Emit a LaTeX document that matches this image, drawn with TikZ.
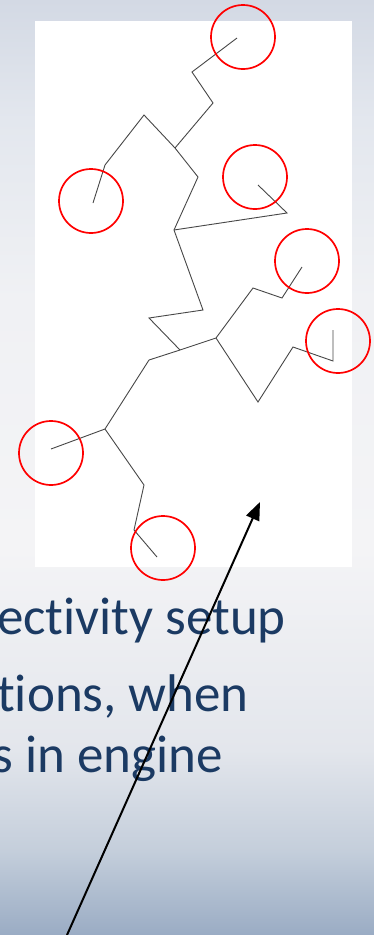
\documentclass[tikz,border=0pt]{standalone}
\usepackage{fontspec}
\setmainfont{Carlito}[Ligatures=NoCommon]
\usetikzlibrary{arrows.meta}

\definecolor{slidetext}{HTML}{1B3A63}
\definecolor{bgtop}{HTML}{D3D9E4}
\definecolor{bga}{HTML}{E3E7EE}
\definecolor{bgb}{HTML}{F0F1F4}
\definecolor{bgmid}{HTML}{F4F4F6}
\definecolor{bgd}{HTML}{E3E6EC}
\definecolor{bgc}{HTML}{C4CEDB}
\definecolor{bgbot}{HTML}{9AACC4}

\pgfdeclareverticalshading{slidebg}{100bp}{color(0bp)=(bgbot); color(25bp)=(bgbot);
  color(29.5bp)=(bgc); color(34.9bp)=(bgd); color(45.6bp)=(bgmid); color(59bp)=(bgb);
  color(68.6bp)=(bga); color(75bp)=(bgtop); color(100bp)=(bgtop)}

\tikzset{
  bond/.style={black!72, line width=0.9pt},
  ring/.style={circle, draw=red, line width=1.7pt, minimum size=64pt, inner sep=0pt},
  caption/.style={anchor=base east, text=slidetext, inner sep=0pt,
    font=\fontsize{53pt}{60pt}\selectfont},
  pointer/.style={-{Triangle[length=18pt,width=14pt]}, line width=2pt}
}

\begin{document}
\begin{tikzpicture}[x=1pt, y=-1pt]
        \useasboundingbox (0,0) rectangle (374,935);
        \clip (0,0) rectangle (374,935);
        \shade[shading=slidebg] (0,0) rectangle (374,935);
        \fill[white] (35,21) rectangle (352,567);

        % chain points
        \coordinate (t1) at (237,38);
        \coordinate (t2) at (192,72);
        \coordinate (t3) at (213,103);
        \coordinate (j1) at (175,148);
        \coordinate (l1) at (144,115);
        \coordinate (l2) at (105,165);
        \coordinate (l3) at (93,203);
        \coordinate (m1) at (198,177);
        \coordinate (m2) at (174,230);
        \coordinate (r1) at (287,213);
        \coordinate (r2) at (258,185);
        \coordinate (m3) at (203,310);
        \coordinate (m4) at (149,318);
        \coordinate (j2) at (180,350);
        \coordinate (j3) at (216,338);
        \coordinate (u1) at (253,288);
        \coordinate (u2) at (282,298);
        \coordinate (u3) at (302,267);
        \coordinate (v1) at (258,402);
        \coordinate (v2) at (293,347);
        \coordinate (v3) at (333,361);
        \coordinate (v4) at (333,330);
        \coordinate (w1) at (149,360);
        \coordinate (j4) at (105,429);
        \coordinate (w2) at (51,449);
        \coordinate (w3) at (144,485);
        \coordinate (w4) at (134,530);
        \coordinate (w5) at (157,557);

        \draw[bond] (t1) -- (t2) -- (t3) -- (j1);
        \draw[bond] (l3) -- (l2) -- (l1) -- (j1) -- (m1) -- (m2) -- (m3) -- (m4) -- (j2);
        \draw[bond] (m2) -- (r1) -- (r2);
        \draw[bond] (w1) -- (j2) -- (j3) -- (u1) -- (u2) -- (u3);
        \draw[bond] (j3) -- (v1) -- (v2) -- (v3) -- (v4);
        \draw[bond] (w1) -- (j4) -- (w2);
        \draw[bond] (j4) -- (w3) -- (w4) -- (w5);

        % chain ends
        \node[ring] (c1) at (243,37) {};
        \node[ring] (c2) at (91,201) {};
        \node[ring] (c3) at (255,177) {};
        \node[ring] (c4) at (307,261) {};
        \node[ring] (c5) at (338,341) {};
        \node[ring] (c6) at (51,453) {};
        \node[ring] (c7) at (163,548) {};

        \node[caption] (line1) at (286,634) {ectivity setup};
        \node[caption] (line2) at (249,711) {tions, when};
        \node[caption] (line3) at (223,772) {s in engine};

        \coordinate (tail) at (67,935);
        \coordinate (tip) at (260,502);
        \draw[pointer] (tail) -- (tip);
\end{tikzpicture}
\end{document}
